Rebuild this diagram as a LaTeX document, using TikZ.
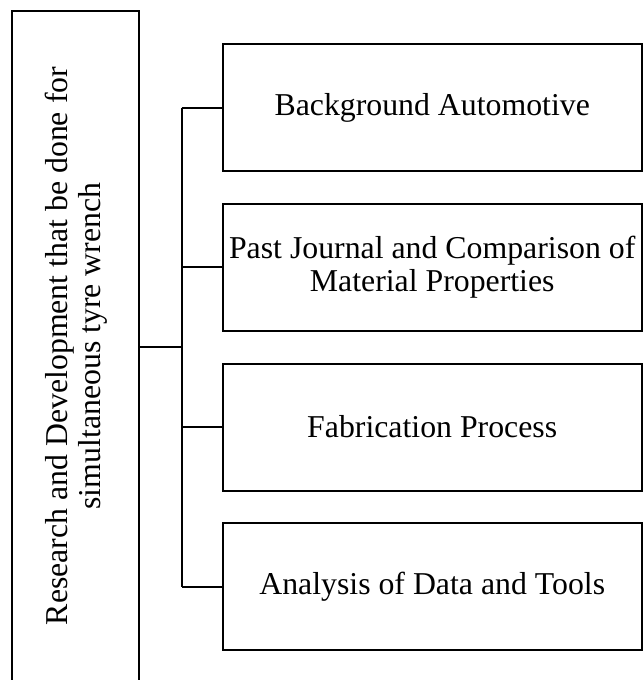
\documentclass[tikz,border=0pt]{standalone}
\usepackage{fontspec}
\setmainfont{Liberation Serif}
\begin{document}
\begin{tikzpicture}[x=1pt,y=-1pt,
  box/.style={draw=black, line width=2pt, rectangle, inner sep=0pt,
    minimum width=419pt, minimum height=127pt, align=center,
    font=\fontsize{31.8}{33}\selectfont},
  link/.style={draw=black, line width=2pt},
  lbl/.style={inner sep=0pt, align=center, font=\fontsize{31.8}{33}\selectfont}]
\useasboundingbox (0,0) rectangle (644,680);
\clip (0,0) rectangle (644,680);
\node[draw=black, line width=2pt, rectangle, inner sep=0pt,
  minimum width=127pt, minimum height=690pt] (root) at (75.5,356) {};
\node[lbl, rotate=90] (roottext) at (76,346) {Research and Development that be done for\\simultaneous tyre wrench};
\node[box] (b1) at (432.2,107.5) {Background Automotive};
\node[box] (b2) at (432.2,267) {Past Journal and Comparison of\\Material Properties};
\node[box] (b3) at (432.2,427) {Fabrication Process};
\node[box] (b4) at (432.2,586.5) {Analysis of Data and Tools};
\coordinate (j) at (181.7,347);
\draw[link] (root.east |- j) -- (j);
\draw[link] (j |- b1.west) -- (j |- b4.west);
\draw[link] (j |- b1.west) -- (b1.west);
\draw[link] (j |- b2.west) -- (b2.west);
\draw[link] (j |- b3.west) -- (b3.west);
\draw[link] (j |- b4.west) -- (b4.west);
\end{tikzpicture}
\end{document}
